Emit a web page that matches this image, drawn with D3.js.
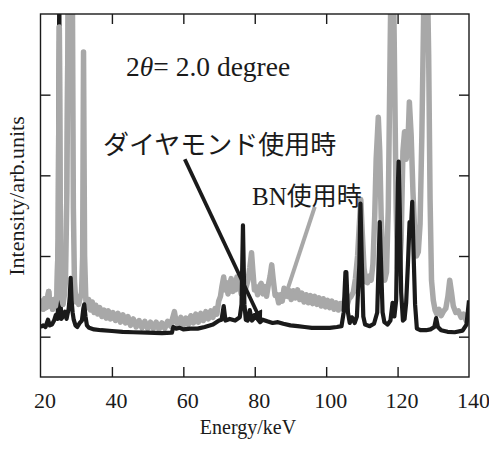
<!DOCTYPE html>
<html>
<head>
<meta charset="utf-8">
<script src="https://cdn.jsdelivr.net/npm/d3@7"></script>
<style>
body { margin: 0; background: #fff; }
</style>
</head>
<body>
<svg id="chart"></svg>
<script>
// diamond anvil spectrum (black)
var diamond = [
	[20, 0.12], [20.8, 0.14], [21.4, 0.12], [22.1, 0.21], [22.6, 0.14], [23.2, 0.15], [23.8, 0.2], [24.3, 0.27],
	[24.8, 0.22], [25.0, 0.6], [25.26, 4.6], [25.5, 0.6], [25.8, 0.22], [26.3, 0.25], [26.85, 0.31], [27.3, 0.22],
	[27.9, 0.35], [28.2, 0.5], [28.45, 0.73], [28.7, 0.45], [29.0, 0.3], [29.3, 0.21], [29.8, 0.14], [30.3, 0.12],
	[31.0, 0.17], [31.6, 0.2], [32.0, 0.35], [32.25, 0.4], [32.6, 0.25], [33.0, 0.14], [33.6, 0.11], [35, 0.09],
	[37, 0.08], [40, 0.07], [43, 0.06], [46, 0.055], [50, 0.05], [54, 0.045], [56.8, 0.05], [57.2, 0.12],
	[58, 0.1], [59, 0.11], [60, 0.09], [62, 0.1], [64, 0.1], [66, 0.12], [68.3, 0.15], [70, 0.2],
	[70.7, 0.21], [71.3, 0.38], [71.8, 0.2], [73, 0.22], [74.5, 0.2], [75.8, 0.24], [76.3, 0.4], [76.7, 1.38],
	[77.1, 0.4], [77.5, 0.21], [78.0, 0.2], [78.6, 0.33], [79.2, 0.2], [80.0, 0.24], [80.6, 0.23], [81.5, 0.18],
	[82.2, 0.21], [83.5, 0.19], [85, 0.17], [86.5, 0.18], [88, 0.16], [90, 0.14], [92, 0.13], [94, 0.12],
	[96, 0.11], [98, 0.11], [101, 0.11], [103, 0.12], [104.3, 0.13], [104.9, 0.3], [105.4, 0.8], [105.65, 0.8],
	[106.1, 0.3], [106.6, 0.17], [107.2, 0.24], [108.0, 0.17], [108.6, 0.25], [109.3, 0.9], [109.6, 1.65], [110.0, 0.9],
	[110.4, 0.25], [110.9, 0.15], [112.2, 0.13], [113.4, 0.16], [114.3, 0.3], [114.8, 1.1], [115.0, 1.42], [115.3, 1.0],
	[115.8, 0.3], [116.3, 0.18], [117.2, 0.15], [118.0, 0.2], [118.6, 0.42], [119.1, 0.25], [119.6, 0.45], [120.1, 1.9],
	[120.3, 2.17], [120.6, 1.6], [121.0, 0.55], [121.5, 0.2], [121.95, 0.22], [122.4, 0.42], [122.9, 0.9], [123.35, 1.42],
	[123.7, 1.3], [124.1, 1.67], [124.5, 1.0], [124.9, 0.4], [125.4, 0.1], [126.5, 0.08], [128, 0.08], [129.2, 0.09],
	[130.3, 0.12], [130.8, 0.23], [131.3, 0.12], [132.2, 0.08], [134, 0.06], [136, 0.055], [138.2, 0.075], [139.3, 0.15],
	[140, 0.45]
];

// BN anvil spectrum (gray)
var bn = [
	[20, 0.33], [20.4, 0.44], [20.8, 0.34], [21.2, 0.47], [21.6, 0.36], [22.0, 0.48], [22.3, 0.56], [22.6, 0.38],
	[23.0, 0.46], [23.4, 0.34], [23.8, 0.46], [24.2, 0.38], [24.6, 0.5], [24.95, 1.2], [25.26, 3.84], [25.55, 1.2],
	[25.9, 0.48], [26.3, 0.4], [26.7, 0.52], [27.0, 0.7], [27.4, 1.8], [27.8, 4.6], [28.1, 5.0], [28.9, 4.6],
	[29.2, 1.6], [29.5, 0.7], [29.9, 0.43], [30.3, 0.5], [30.7, 0.4], [31.1, 0.48], [31.5, 0.55], [31.8, 1.0],
	[32.05, 3.53], [32.35, 1.0], [32.7, 0.45], [33.1, 0.36], [33.5, 0.46], [34.0, 0.33], [34.5, 0.43], [35.0, 0.3],
	[35.5, 0.39], [36, 0.28], [36.6, 0.36], [37.2, 0.25], [37.8, 0.33], [38.4, 0.23], [39, 0.32], [39.6, 0.22],
	[40.3, 0.3], [41, 0.2], [41.7, 0.29], [42.4, 0.18], [43.1, 0.27], [43.8, 0.17], [44.5, 0.25], [45.2, 0.14],
	[46, 0.22], [46.8, 0.12], [47.6, 0.2], [48.4, 0.11], [49.2, 0.19], [50, 0.1], [50.8, 0.18], [51.6, 0.1],
	[52.4, 0.18], [53.2, 0.09], [54, 0.17], [54.8, 0.1], [55.6, 0.19], [56.4, 0.13], [57.0, 0.23], [57.5, 0.31],
	[58, 0.18], [58.6, 0.15], [59.3, 0.24], [60, 0.14], [60.7, 0.23], [61.4, 0.15], [62.1, 0.26], [62.8, 0.17],
	[63.5, 0.28], [64.2, 0.18], [64.9, 0.29], [65.6, 0.2], [66.3, 0.31], [67, 0.22], [67.7, 0.32], [68.3, 0.24],
	[68.9, 0.35], [69.4, 0.28], [69.9, 0.44], [70.4, 0.5], [70.8, 0.62], [71.3, 0.74], [71.7, 0.58], [72.1, 0.67],
	[72.5, 0.53], [73.0, 0.65], [73.4, 0.72], [73.8, 0.56], [74.2, 0.68], [74.6, 0.58], [75.0, 0.74], [75.4, 0.6],
	[75.8, 0.66], [76.2, 0.53], [76.7, 0.7], [77.2, 0.56], [77.6, 0.62], [78.1, 0.7], [78.6, 0.85], [79.1, 1.04],
	[79.5, 0.8], [79.9, 0.58], [80.3, 0.62], [80.8, 0.52], [81.3, 0.62], [81.8, 0.66], [82.3, 0.53], [82.8, 0.62],
	[83.3, 0.5], [83.8, 0.64], [84.3, 0.75], [84.75, 0.89], [85.2, 0.7], [85.7, 0.51], [86.2, 0.52], [86.7, 0.42],
	[87.2, 0.52], [87.7, 0.44], [88.2, 0.6], [88.7, 0.58], [89.2, 0.5], [89.7, 0.57], [90.2, 0.46], [90.8, 0.57],
	[91.4, 0.48], [92, 0.58], [92.6, 0.46], [93.2, 0.54], [93.8, 0.43], [94.4, 0.52], [95, 0.42], [95.6, 0.51],
	[96.2, 0.41], [96.8, 0.5], [97.4, 0.4], [98, 0.48], [98.6, 0.38], [99.2, 0.47], [99.8, 0.37], [100.4, 0.45],
	[101, 0.36], [101.6, 0.44], [102.2, 0.34], [102.8, 0.42], [103.4, 0.33], [104, 0.41], [104.6, 0.35], [105.2, 0.46],
	[105.8, 0.38], [106.4, 0.47], [107, 0.5], [107.6, 0.55], [108.2, 0.72], [108.8, 1.0], [109.3, 1.4], [109.7, 1.7],
	[110.1, 1.3], [110.6, 0.85], [111.1, 0.68], [111.6, 0.67], [112.1, 0.75], [112.6, 0.7], [113.1, 0.9], [113.6, 1.5],
	[114.0, 2.2], [114.6, 2.72], [115.0, 2.3], [115.4, 1.5], [115.9, 0.9], [116.4, 0.7], [116.9, 0.8], [117.4, 1.6],
	[117.9, 3.5], [118.2, 4.6], [118.8, 4.6], [119.1, 3.5], [119.6, 1.6], [120.0, 0.85], [120.5, 0.78], [121.0, 1.2],
	[121.5, 2.3], [121.95, 2.54], [122.4, 2.2], [122.9, 2.4], [123.3, 2.91], [123.8, 2.5], [124.3, 1.8], [124.8, 1.3],
	[125.3, 1.0], [125.8, 1.05], [126.3, 1.4], [126.8, 2.5], [127.3, 4.0], [127.6, 4.6], [128.3, 4.6], [128.7, 3.5],
	[129.1, 1.7], [129.5, 0.7], [130.0, 0.45], [130.5, 0.33], [131.0, 0.28], [131.6, 0.34], [132.2, 0.26], [132.8, 0.31],
	[133.5, 0.35], [134.1, 0.5], [134.6, 0.7], [135.1, 0.55], [135.6, 0.38], [136.3, 0.3], [137, 0.32], [137.8, 0.24],
	[138.5, 0.28], [139.2, 0.2], [140, 0.22]
];

var xTickLabels = [20, 40, 60, 80, 100, 120, 140];
var xTicksInner = [40, 60, 80, 100, 120];
var yTicks = [0, 1, 2, 3];

// annotation arrows in data units: [from, to]
var diamondArrow = [[60.4, 2.2], [81.7, 0.2]];
var bnArrow = [[96.8, 1.61], [88.4, 0.48]];

var serif = "'Liberation Serif', 'Times New Roman', serif";
var cjk = "'Liberation Serif', 'Noto Sans CJK JP', serif";

var width = 489;
var height = 452;
var margin = { left: 40.5, right: 20, top: 14, bottom: 75 };

var svg = d3.select("#chart")
	.attr("width", width)
	.attr("height", height);

var x = d3.scaleLinear().domain([20, 140]).range([margin.left, width - margin.right]);
var y = d3.scaleLinear().domain([-0.5, 4]).range([height - margin.bottom, margin.top]);

var defs = svg.append("defs");
defs.append("clipPath").attr("id", "plot")
	.append("rect")
	.attr("x", x(20)).attr("y", y(4))
	.attr("width", x(140) - x(20)).attr("height", y(-0.5) - y(4));
// low-energy part where the BN trace lies over the diamond trace
defs.append("clipPath").attr("id", "lowE")
	.append("rect")
	.attr("x", x(20)).attr("y", y(4))
	.attr("width", x(27) - x(20)).attr("height", y(-0.5) - y(4));

function marker(id, color) {
	defs.append("marker")
		.attr("id", id)
		.attr("viewBox", "0 0 10 10")
		.attr("refX", 8).attr("refY", 5)
		.attr("markerWidth", 3.2).attr("markerHeight", 3.2)
		.attr("markerUnits", "strokeWidth")
		.attr("orient", "auto")
		.append("path")
		.attr("d", "M0,0 L10,5 L0,10 z")
		.attr("fill", color);
}
marker("headBlack", "#1a1a1a");
marker("headGray", "#a8a8a8");

var line = d3.line()
	.x(function(d) { return x(d[0]); })
	.y(function(d) { return y(d[1]); });

var plot = svg.append("g").attr("clip-path", "url(#plot)");

function drawBN(g) {
	g.append("path")
		.datum(bn)
		.attr("d", line)
		.attr("fill", "none")
		.attr("stroke", "#a8a8a8")
		.attr("stroke-width", 5.5)
		.attr("stroke-linejoin", "round");
}

drawBN(plot);

plot.append("path")
	.datum(diamond)
	.attr("d", line)
	.attr("fill", "none")
	.attr("stroke", "#1a1a1a")
	.attr("stroke-width", 4.2)
	.attr("stroke-linejoin", "round");

drawBN(svg.append("g").attr("clip-path", "url(#lowE)"));

// arrows
svg.append("path")
	.datum(diamondArrow)
	.attr("d", line)
	.attr("stroke", "#1a1a1a")
	.attr("stroke-width", 3.8)
	.attr("marker-end", "url(#headBlack)");

svg.append("path")
	.datum(bnArrow)
	.attr("d", line)
	.attr("stroke", "#a8a8a8")
	.attr("stroke-width", 4)
	.attr("marker-end", "url(#headGray)");

// frame
svg.append("rect")
	.attr("x", x(20)).attr("y", y(4))
	.attr("width", x(140) - x(20)).attr("height", y(-0.5) - y(4))
	.attr("fill", "none")
	.attr("stroke", "#1a1a1a")
	.attr("stroke-width", 1.4);

// axes with inward ticks
svg.append("g")
	.attr("transform", "translate(0," + y(-0.5) + ")")
	.call(d3.axisBottom(x).tickValues(xTicksInner).tickSize(-10).tickFormat(""));
var bottomLabels = svg.append("g")
	.attr("transform", "translate(0," + y(-0.5) + ")")
	.call(d3.axisBottom(x).tickValues(xTickLabels).tickSize(0).tickPadding(15).tickFormat(d3.format("d")));
bottomLabels.attr("font-family", serif).attr("font-size", 22);
bottomLabels.selectAll("text").attr("dx", 4).attr("fill", "#1a1a1a");
bottomLabels.selectAll("line").remove();

svg.append("g")
	.attr("transform", "translate(0," + y(4) + ")")
	.call(d3.axisTop(x).tickValues(xTicksInner).tickSize(-10).tickFormat(""));
svg.append("g")
	.attr("transform", "translate(" + x(20) + ",0)")
	.call(d3.axisLeft(y).tickValues(yTicks).tickSize(-10).tickFormat(""));
svg.append("g")
	.attr("transform", "translate(" + x(140) + ",0)")
	.call(d3.axisRight(y).tickValues(yTicks).tickSize(-10).tickFormat(""));

svg.selectAll(".domain").remove();
svg.selectAll(".tick line").attr("stroke", "#1a1a1a").attr("stroke-width", 1.4);

// axis titles
svg.append("text")
	.attr("x", 248).attr("y", 434)
	.attr("text-anchor", "middle")
	.attr("font-family", serif)
	.attr("font-size", 20)
	.attr("fill", "#1a1a1a")
	.text("Energy/keV");

svg.append("text")
	.attr("transform", "translate(24,196) rotate(-90)")
	.attr("text-anchor", "middle")
	.attr("font-family", serif)
	.attr("font-size", 22)
	.attr("fill", "#1a1a1a")
	.text("Intensity/arb.units");

// labels
var t = svg.append("text")
	.attr("x", 126).attr("y", 76)
	.attr("font-family", serif)
	.attr("font-size", 27.5)
	.attr("fill", "#1a1a1a");
t.append("tspan").text("2");
t.append("tspan").attr("font-style", "italic").text("θ");
t.append("tspan").text("= 2.0 degree");

svg.append("text")
	.attr("x", 103).attr("y", 154)
	.attr("font-family", cjk)
	.attr("font-size", 26)
	.attr("fill", "#1a1a1a")
	.text("ダイヤモンド使用時");

svg.append("text")
	.attr("x", 252).attr("y", 205)
	.attr("font-family", cjk)
	.attr("font-size", 25)
	.attr("fill", "#1a1a1a")
	.text("BN使用時");
</script>
</body>
</html>
